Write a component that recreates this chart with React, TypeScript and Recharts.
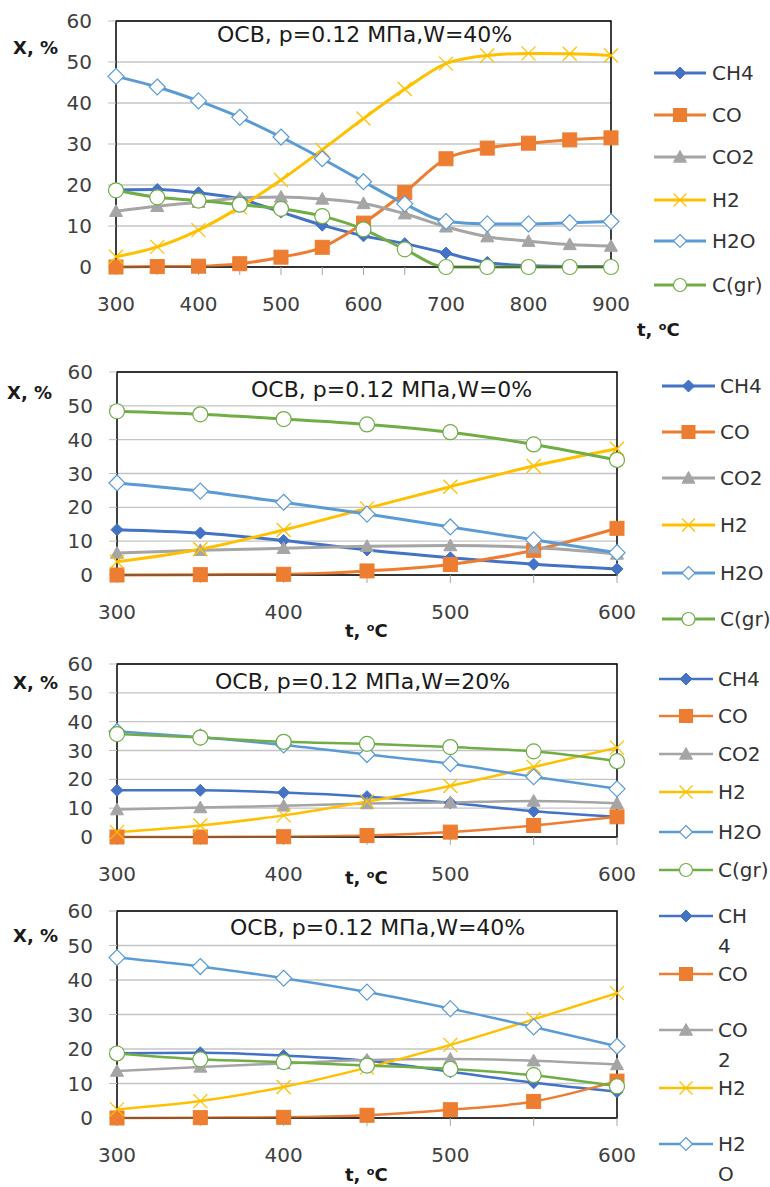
import React from 'react';
import { LineChart, Line, XAxis, YAxis, CartesianGrid, ReferenceArea } from 'recharts';

// temperatures, degC
const TEMPS_WIDE = [300, 350, 400, 450, 500, 550, 600, 650, 700, 750, 800, 850, 900];
const TEMPS_NARROW = [300, 350, 400, 450, 500, 550, 600];
const X_TICKS_WIDE = [300, 350, 400, 450, 500, 550, 600, 650, 700, 750, 800, 850, 900];
const X_TICKS_NARROW = [300, 350, 400, 450, 500, 550, 600];
const Y_TICKS = [0, 10, 20, 30, 40, 50, 60];

const TITLE_W40 = 'OCB, p=0.12 МПа,W=40%';
const TITLE_W0 = 'OCB, p=0.12 МПа,W=0%';
const TITLE_W20 = 'OCB, p=0.12 МПа,W=20%';

// W = 40 %, 300..900
const w40CH4 = [18.8, 18.9, 18.1, 16.6, 13.4, 10.2, 7.6, 5.7, 3.4, 1.1, 0.3, 0.1, 0.1];
const w40CO = [0, 0.1, 0.2, 0.8, 2.4, 4.8, 10.7, 18.2, 26.4, 29.0, 30.2, 31.0, 31.5];
const w40CO2 = [13.6, 14.8, 15.8, 16.8, 17.1, 16.6, 15.5, 13.0, 9.8, 7.4, 6.3, 5.5, 5.1];
const w40H2 = [2.5, 4.9, 9.0, 14.6, 21.2, 28.6, 36.2, 43.4, 49.6, 51.6, 52.1, 52.0, 51.6];
const w40H2O = [46.5, 43.9, 40.5, 36.5, 31.7, 26.4, 20.8, 15.4, 11.1, 10.5, 10.5, 10.8, 11.1];
const w40C = [18.7, 17.0, 16.2, 15.2, 14.2, 12.4, 9.2, 4.3, 0, 0, 0, 0, 0];

// W = 0 %, 300..600
const w0CH4 = [13.4, 12.4, 10.2, 7.4, 5.1, 3.2, 1.8];
const w0CO = [0, 0.1, 0.2, 1.2, 3.1, 7.3, 13.8];
const w0CO2 = [6.5, 7.3, 7.9, 8.5, 8.7, 8.1, 6.2];
const w0H2 = [3.9, 7.6, 13.3, 19.7, 26.1, 32.2, 37.3];
const w0H2O = [27.2, 24.8, 21.5, 18.0, 14.2, 10.4, 6.6];
const w0C = [48.4, 47.5, 46.1, 44.5, 42.2, 38.6, 34.0];

// W = 20 %, 300..600
const w20CH4 = [16.2, 16.2, 15.4, 14.0, 11.9, 8.9, 7.0];
const w20CO = [0, 0, 0.1, 0.5, 1.7, 4.0, 7.0];
const w20CO2 = [9.5, 10.2, 10.8, 11.6, 12.0, 12.5, 11.7];
const w20H2 = [1.7, 4.0, 7.5, 12.3, 17.7, 24.3, 31.0];
const w20H2O = [36.6, 34.6, 31.9, 28.6, 25.4, 20.9, 16.7];
const w20C = [35.7, 34.5, 33.0, 32.3, 31.2, 29.7, 26.3];

type Shape = 'diamond' | 'square' | 'triangle' | 'x' | 'odiamond' | 'ocircle';

const SERIES: { key: string; color: string; shape: Shape; size: number }[] = [
  { key: 'CH4', color: '#4472C4', shape: 'diamond', size: 6 },
  { key: 'CO', color: '#ED7D31', shape: 'square', size: 7 },
  { key: 'CO2', color: '#A5A5A5', shape: 'triangle', size: 6.5 },
  { key: 'H2', color: '#FFC000', shape: 'x', size: 7 },
  { key: 'H2O', color: '#5B9BD5', shape: 'odiamond', size: 8 },
  { key: 'C(gr)', color: '#70AD47', shape: 'ocircle', size: 7.5 },
];

function marker(shape: Shape, cx: number, cy: number, s: number, color: string, key?: any) {
  switch (shape) {
    case 'diamond':
      return <path key={key} d={`M${cx},${cy - s}L${cx + s},${cy}L${cx},${cy + s}L${cx - s},${cy}Z`} fill={color} stroke={color} />;
    case 'square':
      return <rect key={key} x={cx - s} y={cy - s} width={2 * s} height={2 * s} fill={color} stroke={color} />;
    case 'triangle':
      return <path key={key} d={`M${cx},${cy - s}L${cx + s},${cy + s * 0.8}L${cx - s},${cy + s * 0.8}Z`} fill={color} stroke={color} />;
    case 'x':
      return (
        <g key={key} stroke={color} strokeWidth={1.3}>
          <line x1={cx - s} y1={cy - s} x2={cx + s} y2={cy + s} />
          <line x1={cx - s} y1={cy + s} x2={cx + s} y2={cy - s} />
        </g>
      );
    case 'odiamond':
      return <path key={key} d={`M${cx},${cy - s}L${cx + s},${cy}L${cx},${cy + s}L${cx - s},${cy}Z`} fill="#fff" stroke={color} strokeWidth={1.2} />;
    default:
      return <circle key={key} cx={cx} cy={cy} r={s} fill="#fff" stroke={color} strokeWidth={1.2} />;
  }
}

function makeRows(temps: number[], cols: Record<string, number[]>) {
  return temps.map((t, i) => {
    const row: Record<string, number> = { t };
    Object.keys(cols).forEach((k) => { row[k] = cols[k][i]; });
    return row;
  });
}

interface PanelCfg {
  title: string;
  rows: Record<string, number>[];
  xMax: number;
  xTicks: number[];
  top: number;
  height: number;
  plotTop: number;     // page y of 60
  plotBottom: number;  // page y of 0
  plotLeft: number;
  plotRight: number;
  lineW: number;
  titleX: number; titleY: number;
  yLabX: number; yLabY: number;
  xLabX: number; xLabY: number;
  legX0: number; legX1: number; legTextX: number;
  legRows: number[];
  legKeys: string[];
  legWrap?: boolean;
}

const PANELS: PanelCfg[] = [
  {
    title: TITLE_W40,
    rows: makeRows(TEMPS_WIDE, { CH4: w40CH4, CO: w40CO, CO2: w40CO2, H2: w40H2, H2O: w40H2O, 'C(gr)': w40C }),
    xMax: 900, xTicks: X_TICKS_WIDE,
    top: 0, height: 335, plotTop: 21, plotBottom: 267, plotLeft: 116, plotRight: 611, lineW: 3,
    titleX: 217, titleY: 35, yLabX: 13, yLabY: 48, xLabX: 637, xLabY: 327,
    legX0: 654, legX1: 706, legTextX: 712, legRows: [73, 115, 157, 200, 241, 285],
    legKeys: ['CH4', 'CO', 'CO2', 'H2', 'H2O', 'C(gr)'],
  },
  {
    title: TITLE_W0,
    rows: makeRows(TEMPS_NARROW, { CH4: w0CH4, CO: w0CO, CO2: w0CO2, H2: w0H2, H2O: w0H2O, 'C(gr)': w0C }),
    xMax: 600, xTicks: X_TICKS_NARROW,
    top: 340, height: 300, plotTop: 372, plotBottom: 575, plotLeft: 117, plotRight: 617, lineW: 3,
    titleX: 251, titleY: 390, yLabX: 7, yLabY: 393, xLabX: 345, xLabY: 628,
    legX0: 662, legX1: 715, legTextX: 720, legRows: [386, 432, 478, 525, 573, 619],
    legKeys: ['CH4', 'CO', 'CO2', 'H2', 'H2O', 'C(gr)'],
  },
  {
    title: TITLE_W20,
    rows: makeRows(TEMPS_NARROW, { CH4: w20CH4, CO: w20CO, CO2: w20CO2, H2: w20H2, H2O: w20H2O, 'C(gr)': w20C }),
    xMax: 600, xTicks: X_TICKS_NARROW,
    top: 645, height: 255, plotTop: 664, plotBottom: 837, plotLeft: 117, plotRight: 617, lineW: 2.5,
    titleX: 215, titleY: 682, yLabX: 13, yLabY: 683, xLabX: 345, xLabY: 875,
    legX0: 659, legX1: 713, legTextX: 718, legRows: [679, 716, 754, 792, 832, 870],
    legKeys: ['CH4', 'CO', 'CO2', 'H2', 'H2O', 'C(gr)'],
  },
  {
    title: TITLE_W40,
    rows: makeRows(TEMPS_NARROW, {
      CH4: w40CH4.slice(0, 7), CO: w40CO.slice(0, 7), CO2: w40CO2.slice(0, 7),
      H2: w40H2.slice(0, 7), H2O: w40H2O.slice(0, 7), 'C(gr)': w40C.slice(0, 7),
    }),
    xMax: 600, xTicks: X_TICKS_NARROW,
    top: 900, height: 287, plotTop: 911, plotBottom: 1118, plotLeft: 117, plotRight: 617, lineW: 2.5,
    titleX: 230, titleY: 928, yLabX: 13, yLabY: 936, xLabX: 345, xLabY: 1172,
    legX0: 659, legX1: 713, legTextX: 718, legRows: [916, 974, 1030, 1088, 1144],
    legKeys: ['CH4', 'CO', 'CO2', 'H2', 'H2O'],
    legWrap: true,
  },
];

const FONT = '"DejaVu Sans", sans-serif';
const TICK = { fontSize: 20, fill: '#404040', fontFamily: FONT };

function Txt({ x, y, size, bold, children }: { x: number; y: number; size: number; bold?: boolean; children: React.ReactNode }) {
  return (
    <div style={{ position: 'absolute', left: x, top: y - size / 2, fontSize: size, lineHeight: `${size}px`, fontWeight: bold ? 700 : 400, whiteSpace: 'nowrap', color: '#1a1a1a' }}>
      {children}
    </div>
  );
}

function Panel({ cfg }: { cfg: PanelCfg }) {
  const xAxisH = 30;
  const yAxisW = 100;
  const pt = cfg.plotTop - cfg.top;
  const pb = cfg.plotBottom - cfg.top;
  return (
    <div style={{ position: 'absolute', left: 0, top: cfg.top, width: 770, height: cfg.height }}>
      <LineChart
        width={770}
        height={cfg.height}
        data={cfg.rows}
        margin={{ top: pt, right: 770 - cfg.plotRight, bottom: cfg.height - pb - xAxisH, left: cfg.plotLeft - yAxisW }}
      >
        <CartesianGrid vertical={false} stroke="#C4C4C4" strokeWidth={1.4} />
        <XAxis
          dataKey="t"
          type="number"
          domain={[300, cfg.xMax]}
          ticks={cfg.xTicks}
          interval={0}
          height={xAxisH}
          tickSize={8}
          tickMargin={22}
          tickLine={{ stroke: '#A6A6A6' }}
          axisLine={{ stroke: '#333' }}
          tick={TICK}
          tickFormatter={(v: number) => (v % 100 === 0 ? String(v) : '')}
        />
        <YAxis
          type="number"
          domain={[0, 60]}
          ticks={Y_TICKS}
          interval={0}
          width={yAxisW}
          tickSize={8}
          tickMargin={16}
          axisLine={false}
          tickLine={{ stroke: '#BFBFBF' }}
          tick={TICK}
        />
        <ReferenceArea x1={300} x2={cfg.xMax} y1={0} y2={60} fill="none" fillOpacity={0} stroke="#000" strokeWidth={1.5} />
        {SERIES.map((s) => (
          <Line
            key={s.key}
            dataKey={s.key}
            type="monotone"
            stroke={s.color}
            strokeWidth={cfg.lineW}
            activeDot={false}
            isAnimationActive={false}
            dot={(p: any) => (p.cx == null ? <g key={p.index} /> : marker(s.shape, p.cx, p.cy, s.size, s.color, p.index))}
          />
        ))}
      </LineChart>
    </div>
  );
}

function Legend({ cfg }: { cfg: PanelCfg }) {
  return (
    <>
      {cfg.legKeys.map((k, i) => {
        const s = SERIES.find((q) => q.key === k)!;
        const y = cfg.legRows[i];
        const w = cfg.legX1 - cfg.legX0;
        return (
          <React.Fragment key={k}>
            <svg style={{ position: 'absolute', left: cfg.legX0, top: y - 12 }} width={w} height={24}>
              <line x1={0} y1={12} x2={w} y2={12} stroke={s.color} strokeWidth={cfg.lineW} />
              {marker(s.shape, w / 2, 12, Math.min(s.size, 6.5), s.color)}
            </svg>
            <div
              style={{
                position: 'absolute',
                left: cfg.legTextX,
                top: y - (cfg.legWrap ? 15 : 12),
                fontSize: 20,
                lineHeight: cfg.legWrap ? '30px' : '24px',
                color: '#333',
                width: cfg.legWrap ? 36 : undefined,
                wordBreak: cfg.legWrap ? 'break-all' : undefined,
                whiteSpace: cfg.legWrap ? 'normal' : 'nowrap',
              }}
            >
              {k}
            </div>
          </React.Fragment>
        );
      })}
    </>
  );
}

export default function App() {
  return (
    <div style={{ position: 'absolute', left: 0, top: 0, width: 770, height: 1187, background: '#fff', fontFamily: FONT, overflow: 'hidden' }}>
      {PANELS.map((cfg, i) => (
        <Panel key={i} cfg={cfg} />
      ))}
      {PANELS.map((cfg, i) => (
        <React.Fragment key={'o' + i}>
          <Txt x={cfg.titleX} y={cfg.titleY} size={22}>{cfg.title}</Txt>
          <Txt x={cfg.yLabX} y={cfg.yLabY} size={18} bold>X, %</Txt>
          <Txt x={cfg.xLabX} y={cfg.xLabY} size={18} bold>
            t, <span style={{ fontSize: '0.62em', verticalAlign: '0.55em' }}>o</span>C
          </Txt>
          <Legend cfg={cfg} />
        </React.Fragment>
      ))}
    </div>
  );
}
